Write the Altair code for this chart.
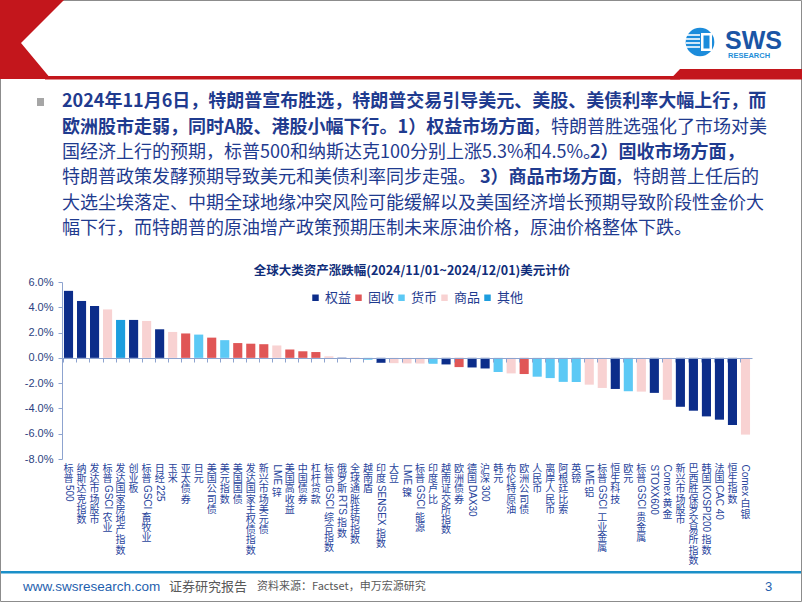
import altair as alt
import pandas as pd

# ---------------- data ----------------
names = ["标普500", "纳斯达克指数", "发达市场股市", "标普GSCI 农业", "发达国家房地产指数", "创业板",
         "标普GSCI 畜牧业", "日经225", "玉米", "亚太债券", "日元", "美国公司债", "美元指数", "美国国债",
         "发达国家主权债指数", "新兴市场美元债", "LME 锌", "美国高收益", "中国债券", "杠杆贷款",
         "标普GSCI 综合指数", "俄罗斯RTS 指数", "全球通胀挂钩指数", "越南盾", "印度SENSEX 指数", "大豆",
         "LME 镍", "标普GSCI 能源", "印度卢比", "越南证交所指数", "欧洲债券", "德国DAX30", "沪深300",
         "韩元", "布伦特原油", "欧洲公司债", "人民币", "离岸人民币", "阿根廷比索", "英镑", "LME 铝",
         "标普GSCI 工业金属", "恒生科技", "欧元", "标普GSCI 贵金属", "STOXX600", "Comex 黄金",
         "新兴市场股市", "巴西胜保罗交易所指数", "韩国KOSPI200 指数", "法国CAC 40", "恒生指数", "Comex 白银"]
values = [5.30, 4.50, 4.10, 3.83, 3.00, 3.00, 2.92, 2.26, 2.05, 1.93, 1.84, 1.60, 1.40, 1.17,
          1.12, 1.08, 0.98, 0.66, 0.52, 0.46, 0.12, 0.02, 0.01, -0.15, -0.39, -0.42, -0.44, -0.45,
          -0.47, -0.52, -0.73, -0.76, -0.84, -1.12, -1.23, -1.28, -1.49, -1.60, -1.90, -1.91, -2.12,
          -2.38, -2.46, -2.64, -2.67, -2.77, -3.32, -3.87, -4.18, -4.63, -4.89, -5.31, -6.07]
groups = ["权益", "权益", "权益", "商品", "其他", "权益", "商品", "权益", "商品", "固收", "货币", "固收",
          "货币", "固收", "固收", "固收", "商品", "固收", "固收", "固收", "商品", "权益", "固收", "货币",
          "权益", "商品", "商品", "商品", "货币", "权益", "固收", "权益", "权益", "货币", "商品", "固收",
          "货币", "货币", "货币", "货币", "商品", "商品", "权益", "货币", "商品", "权益", "商品", "权益",
          "权益", "权益", "权益", "权益", "商品"]
group_order = ["权益", "固收", "货币", "商品", "其他"]
group_colors = ["#0C2D8A", "#E05656", "#5CC9F5", "#F8D2D2", "#1D9DDE"]
y_ticks = [-8, -6, -4, -2, 0, 2, 4, 6]

chart_title = "全球大类资产涨跌幅(2024/11/01~2024/12/01)美元计价"
para_lines = [
    [("2024年11月6日，特朗普宣布胜选，特朗普交易引导美元、美股、美债利率大幅上行，而", "bold")],
    [("欧洲股市走弱，同时A股、港股小幅下行。1）权益市场方面", "bold"), ("，特朗普胜选强化了市场对美", "normal")],
    [("国经济上行的预期，标普500和纳斯达克100分别上涨5.3%和4.5%。", "normal"), ("2）固收市场方面，", "bold")],
    [("特朗普政策发酵预期导致美元和美债利率同步走强。", "normal"), ("3）商品市场方面", "bold"), ("，特朗普上任后的", "normal")],
    [("大选尘埃落定、中期全球地缘冲突风险可能缓解以及美国经济增长预期导致阶段性金价大", "normal")],
    [("幅下行，而特朗普的原油增产政策预期压制未来原油价格，原油价格整体下跌。", "normal")],
]
footer_site = "www.swsresearch.com"
footer_report = "证券研究报告"
footer_source = "资料来源：Factset，申万宏源研究"
page_no = "3"

# ---------------- layout ----------------
OX, OY, W, H = 62, 282, 690, 177
CJK = "Noto Sans CJK SC"
LAT = "Liberation Sans"
NAVY_TXT = "#1F3B8F"
AX = "#8DA3CF"
RED = "#C3161C"
LBL = "#28449C"
LFS = 10          # category label font size
CH = 10.2         # pitch of stacked CJK characters
LAB_TOP = 464 - OY

df = pd.DataFrame({"name": names, "value": values, "group": groups})
one = pd.DataFrame({"k": [0]})


def run_width(s):
    w = 0.0
    wide = {"I": 2.78, "M": 8.33, "G": 7.78, "O": 7.78, "C": 7.22, "D": 7.22, "N": 7.22,
            "R": 7.22, "L": 5.56, "T": 6.11, "m": 8.33, "x": 5.0}
    for ch in s:
        if ch.isdigit():
            w += 5.56
        elif ch in " .":
            w += 2.78
        elif ch in wide:
            w += wide[ch]
        elif ch.isupper():
            w += 6.67
        else:
            w += 5.56
    return w * LFS / 10.0


# vertical category labels: CJK characters stacked upright, Latin runs rotated 90 degrees
lab_rows = []
for n in names:
    pos, i = 0.0, 0
    while i < len(n):
        if ord(n[i]) < 0x2E80:
            j = i
            while j < len(n) and ord(n[j]) < 0x2E80:
                j += 1
            run = n[i:j]
            if run.strip():
                lab_rows.append({"name": n, "piece": run.strip(), "py": LAB_TOP + pos + 0.5, "rot": 1})
            pos += run_width(run) + 1.0
            i = j
        else:
            lab_rows.append({"name": n, "piece": n[i], "py": LAB_TOP + pos, "rot": 0})
            pos += CH
            i += 1
lab = pd.DataFrame(lab_rows)

xscale = alt.Scale(domain=names, paddingInner=0.3, paddingOuter=0.15)
yscale = alt.Scale(domain=[-8, 6], nice=False, zero=False)

bars = alt.Chart(df).mark_bar().encode(
    x=alt.X("name:N", scale=xscale,
            axis=alt.Axis(orient="bottom", offset=-101, labels=False, ticks=True, tickSize=4,
                          tickColor=AX, domainColor=AX, bandPosition=0, title=None, grid=False, zindex=1)),
    y=alt.Y("value:Q", scale=yscale,
            axis=alt.Axis(values=y_ticks, title=None, grid=False, domainColor=AX, tickColor=AX, tickSize=4,
                          labelPadding=5, labelFontSize=11, labelFont=LAT, labelColor="#2B3F7F",
                          labelExpr="(datum.value < 0 ? '-' : '') + format(abs(datum.value), '.1f') + '%'")),
    color=alt.Color("group:N", scale=alt.Scale(domain=group_order, range=group_colors),
                    legend=alt.Legend(orient="none", legendX=247, legendY=9, direction="horizontal", title=None,
                                      symbolType="square", symbolSize=42, symbolStrokeWidth=0,
                                      labelFontSize=13, labelFont=CJK, labelColor=NAVY_TXT,
                                      columnPadding=0, labelOffset=3)),
)

labels_up = alt.Chart(lab).transform_filter("datum.rot == 0").mark_text(
    font=CJK, fontSize=LFS, color=LBL, align="center", baseline="top"
).encode(
    x=alt.X("name:N", scale=xscale, axis=None),
    y=alt.Y("py:Q", scale=None, axis=None),
    text="piece:N",
)

labels_rot = alt.Chart(lab).transform_filter("datum.rot == 1").mark_text(
    font=LAT, fontSize=LFS, color=LBL, align="left", baseline="middle", angle=90
).encode(
    x=alt.X("name:N", scale=xscale, axis=None),
    y=alt.Y("py:Q", scale=None, axis=None),
    text="piece:N",
)


def txt(s, x, y, size, color, weight="normal", align="left", font=CJK, baseline="middle"):
    return alt.Chart(one).mark_text(text=s, fontSize=size, color=color, fontWeight=weight, align=align,
                                    baseline=baseline, font=font).encode(x=alt.value(x - OX), y=alt.value(y - OY))


def rect(x1, y1, x2, y2, color, **kw):
    return alt.Chart(one).mark_rect(color=color, **kw).encode(
        x=alt.value(x1 - OX), x2=alt.value(x2 - OX), y=alt.value(y1 - OY), y2=alt.value(y2 - OY))


def rule(x1, y1, x2, y2, color, w):
    return alt.Chart(one).mark_rule(color=color, strokeWidth=w).encode(
        x=alt.value(x1 - OX), x2=alt.value(x2 - OX), y=alt.value(y1 - OY), y2=alt.value(y2 - OY))


def hshape(ys, x0s, x1s, color):
    d = pd.DataFrame({"py": [v - OY for v in ys], "a": [v - OX for v in x0s], "b": [v - OX for v in x1s]})
    return alt.Chart(d).mark_area(color=color, orient="horizontal").encode(
        y=alt.Y("py:Q", scale=None, axis=None), x=alt.X("a:Q", scale=None, axis=None), x2="b:Q")


deco = []
# slide frame
deco.append(rect(0.5, 0.5, 801.5, 601.5, "#FFFFFF", fillOpacity=0, stroke="#8C8C8C", strokeWidth=1))
# header red chevron and bar
deco.append(hshape([0, 43, 79], [0, 0, 0], [64, 21, 51], RED))
deco.append(rect(45, 76, 680, 79.5, RED))
deco.append(hshape([69, 79.5], [680, 670], [802, 802], RED))
# logo
deco.append(alt.Chart(one).mark_circle(size=820, color="#1C8CDB", opacity=1).encode(
    x=alt.value(700 - OX), y=alt.value(42 - OY)))
for yy in [35, 39, 43, 47]:
    deco.append(rule(686, yy, 700, yy, "#FFFFFF", 1.6))
deco.append(rect(701, 33, 712, 51, "#FFFFFF"))
deco.append(rect(703.5, 35.5, 709.5, 48.5, "#1C8CDB"))
deco.append(txt("SWS", 725, 49, 25, "#1A55A5", weight="bold", font=LAT, baseline="alphabetic"))
deco.append(txt("RESEARCH", 728, 58, 7.5, "#1E8ED8", weight="bold", font=LAT, baseline="alphabetic"))
# bullet + paragraph
deco.append(rect(37, 98, 44, 106, "#A6A6A6"))
line_y = [102, 127.5, 153, 178, 203.5, 229]
seg_pos = [
    [(62, "left")],
    [(62, "left"), (767, "right")],
    [(62, "left"), (590, "left")],
    [(62, "left"), (480, "left"), (615, "left")],
    [(62, "left")],
    [(62, "left")],
]
for li, segs in enumerate(para_lines):
    for (s, wgt), (xx, al) in zip(segs, seg_pos[li]):
        deco.append(txt(s, xx, line_y[li], 18, NAVY_TXT, weight=wgt, align=al))
# chart title
deco.append(txt(chart_title, 412, 271, 12.5, "#0F2D7A", weight="bold", align="center"))
# footer
deco.append(rect(1, 571, 801, 573.5, "#1B8FC8"))
deco.append(txt(footer_site, 23, 587, 13.5, "#1F5FAE", font=LAT))
deco.append(txt(footer_report, 169, 587, 13, "#595959"))
deco.append(txt(footer_source, 257, 587, 11, "#595959"))
deco.append(txt(page_no, 765, 587, 13, "#1F5FAE", font=LAT))

chart = alt.layer(*deco, labels_up, labels_rot, bars).resolve_scale(
    x="independent", y="independent"
).resolve_axis(x="independent", y="independent").properties(
    width=W, height=H,
    padding={"left": OX, "top": OY, "right": 802 - OX - W, "bottom": 602 - OY - H},
    autosize=alt.AutoSizeParams(type="none"),
    background="white",
).configure_view(strokeWidth=0)

chart.save("out.html", embed_options={"renderer": "svg", "actions": False})
